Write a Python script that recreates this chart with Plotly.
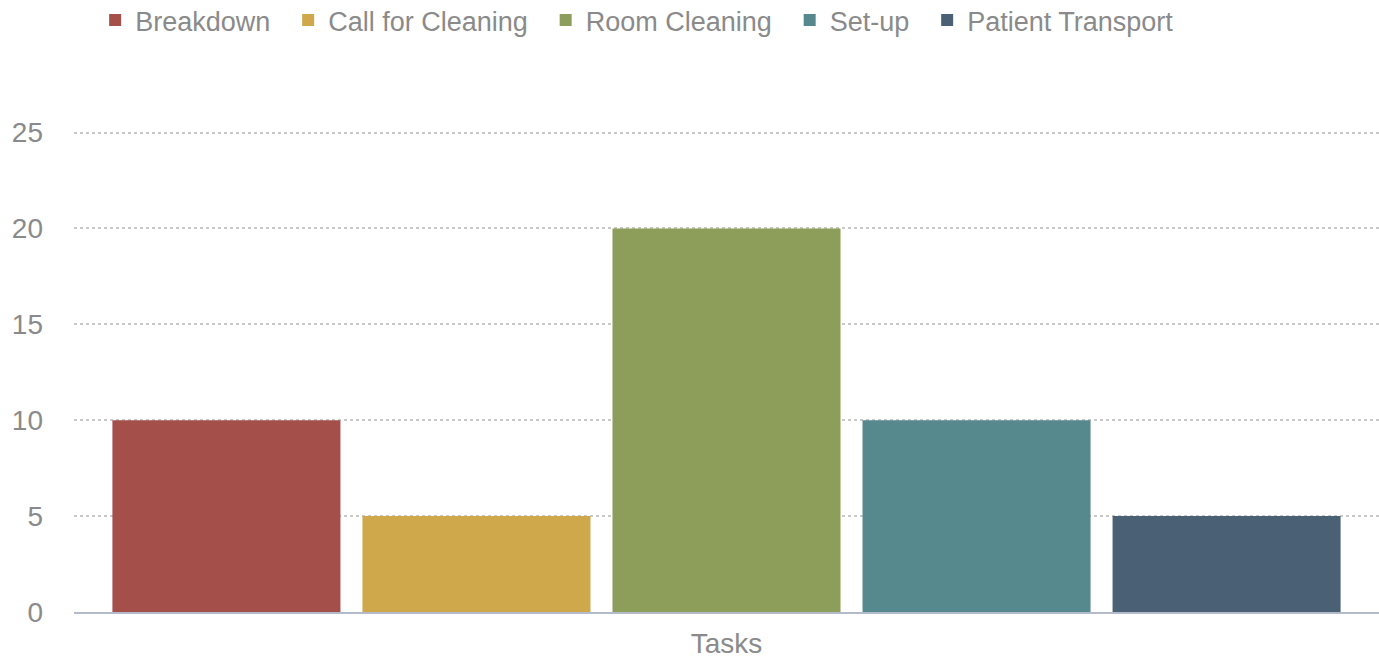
import plotly.graph_objects as go

# Task counts per category
categories = ["Tasks"]
series_names = ["Breakdown", "Call for Cleaning", "Room Cleaning", "Set-up", "Patient Transport"]
series_values = [10, 5, 20, 10, 5]
series_colors = ["#A54F4B", "#CEA84B", "#8D9E5A", "#56898D", "#4A6175"]

y_ticks = [0, 5, 10, 15, 20, 25]

font_family = "Liberation Sans, Arial, sans-serif"
grey = "#8a8a8a"
pad = "\u00a0\u2009"  # a little extra room after each legend entry

fig = go.Figure()
for name, val, col in zip(series_names, series_values, series_colors):
    fig.add_trace(go.Bar(
        x=categories, y=[val], name=name + pad,
        marker=dict(color=col, line=dict(width=0)),
    ))

fig.update_layout(
    width=1379, height=659,
    margin=dict(l=74, r=0, t=131, b=47),
    paper_bgcolor="white", plot_bgcolor="white",
    barmode="group", bargap=0.042, bargroupgap=0.088,
    font=dict(family=font_family, color=grey, size=28),
    showlegend=True,
    legend=dict(
        orientation="h", xref="container", yref="container",
        x=0.069, y=0.969, xanchor="left", yanchor="middle",
        font=dict(size=27, color=grey), itemwidth=30,
        traceorder="normal",
    ),
    xaxis=dict(
        showgrid=False, showline=True, linecolor="#B3BACB", linewidth=2,
        ticks="", tickfont=dict(size=28, color=grey), ticklabelstandoff=5,
        automargin=False,
    ),
    yaxis=dict(
        range=[0, 25.08], tickvals=y_ticks, showline=False,
        showgrid=True, gridcolor="#C8C8C8", griddash="dot", gridwidth=1.5,
        zeroline=False, ticks="", tickfont=dict(size=28, color=grey),
        ticklabelstandoff=30, automargin=False,
    ),
)

fig.write_html("out.html")
